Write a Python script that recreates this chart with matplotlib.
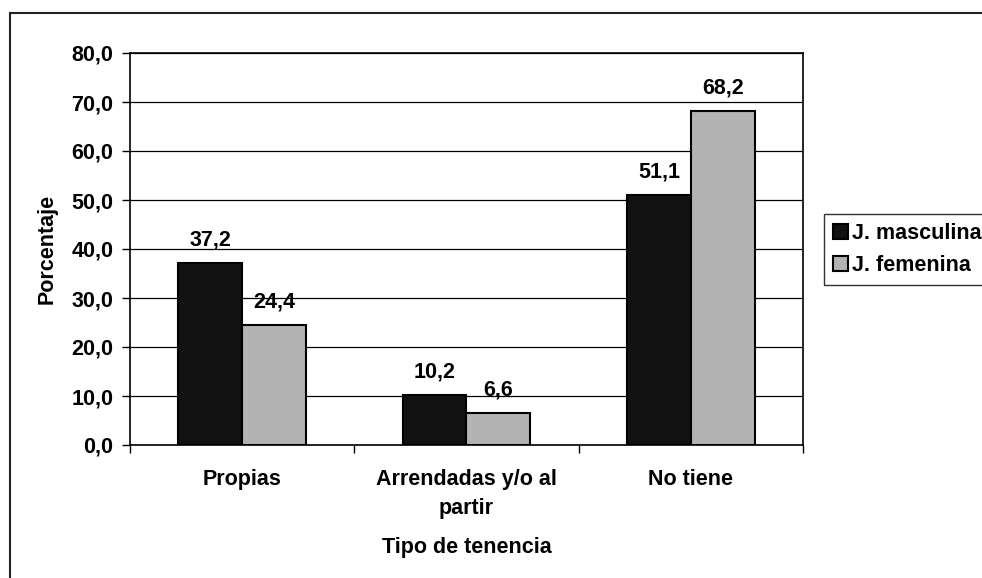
import matplotlib
matplotlib.use("Agg")
import matplotlib.pyplot as plt
from matplotlib.patches import Rectangle
import numpy as np

categories = ["Propias", "Arrendadas y/o al\npartir", "No tiene"]
masculina = [37.2, 10.2, 51.1]
femenina = [24.4, 6.6, 68.2]
series_names = ["J. masculina", "J. femenina"]
y_ticks = [0, 10, 20, 30, 40, 50, 60, 70, 80]

plt.rcParams["font.family"] = ["Liberation Sans", "DejaVu Sans"]
plt.rcParams["font.weight"] = "bold"
FS = 15.5

fig = plt.figure(figsize=(9.82, 5.78), dpi=100)
ax = fig.add_axes([130 / 982, 1 - 445 / 578, (803 - 130) / 982, (445 - 53) / 578])

x = np.arange(len(categories))
w = 0.285
b1 = ax.bar(x - w / 2, masculina, w, color="#111111", edgecolor="black", linewidth=1.5,
            label=series_names[0], zorder=3)
b2 = ax.bar(x + w / 2, femenina, w, color="#b3b3b3", edgecolor="black", linewidth=1.5,
            label=series_names[1], zorder=3)

for bars, vals in ((b1, masculina), (b2, femenina)):
    for rect, v in zip(bars, vals):
        ax.annotate(f"{v:.1f}".replace(".", ","),
                    (rect.get_x() + rect.get_width() / 2, v),
                    xytext=(0, 9), textcoords="offset points",
                    ha="center", va="bottom", fontsize=FS, fontweight="bold")

ax.set_xlim(-0.5, 2.5)
ax.set_ylim(0, 80)
ax.set_yticks(y_ticks)
ax.set_yticklabels([f"{t:.1f}".replace(".", ",") for t in y_ticks], fontsize=FS, fontweight="bold")
ax.yaxis.grid(True, color="black", linewidth=0.9, zorder=0)
ax.set_axisbelow(True)

ax.set_xticks([-0.5, 0.5, 1.5, 2.5])
ax.set_xticklabels([])
ax.set_xticks(x, minor=True)
ax.set_xticklabels(categories, minor=True, fontsize=FS, fontweight="bold", linespacing=1.5)
ax.tick_params(axis="x", which="minor", length=0, pad=17)
ax.tick_params(axis="x", which="major", length=6, width=1, direction="out")
ax.tick_params(axis="y", length=6, width=1, direction="out", pad=6)

for s in ax.spines.values():
    s.set_linewidth(1.2)
    s.set_color("black")

ax.set_ylabel("Porcentaje", fontsize=FS, fontweight="bold", labelpad=10)
ax.set_xlabel("Tipo de tenencia", fontsize=FS, fontweight="bold", labelpad=13)

leg = ax.legend(loc="upper left", bbox_to_anchor=(824 / 982, 1 - 214 / 578),
                bbox_transform=fig.transFigure, frameon=True, fancybox=False,
                edgecolor="black", fontsize=FS, handlelength=0.7, handleheight=0.7,
                handletextpad=0.2, borderpad=0.4, labelspacing=0.55, borderaxespad=0)
leg.get_frame().set_linewidth(1.0)
for t in leg.get_texts():
    t.set_fontweight("bold")

# outer chart frame (only top and left edges fall within the image)
fig.patches.append(Rectangle((10 / 982, -0.2), 1.2, 1 - 13 / 578 + 0.2,
                             transform=fig.transFigure, fill=False,
                             edgecolor="#222222", linewidth=1.5, clip_on=False))

fig.savefig("out.png", dpi=100)
